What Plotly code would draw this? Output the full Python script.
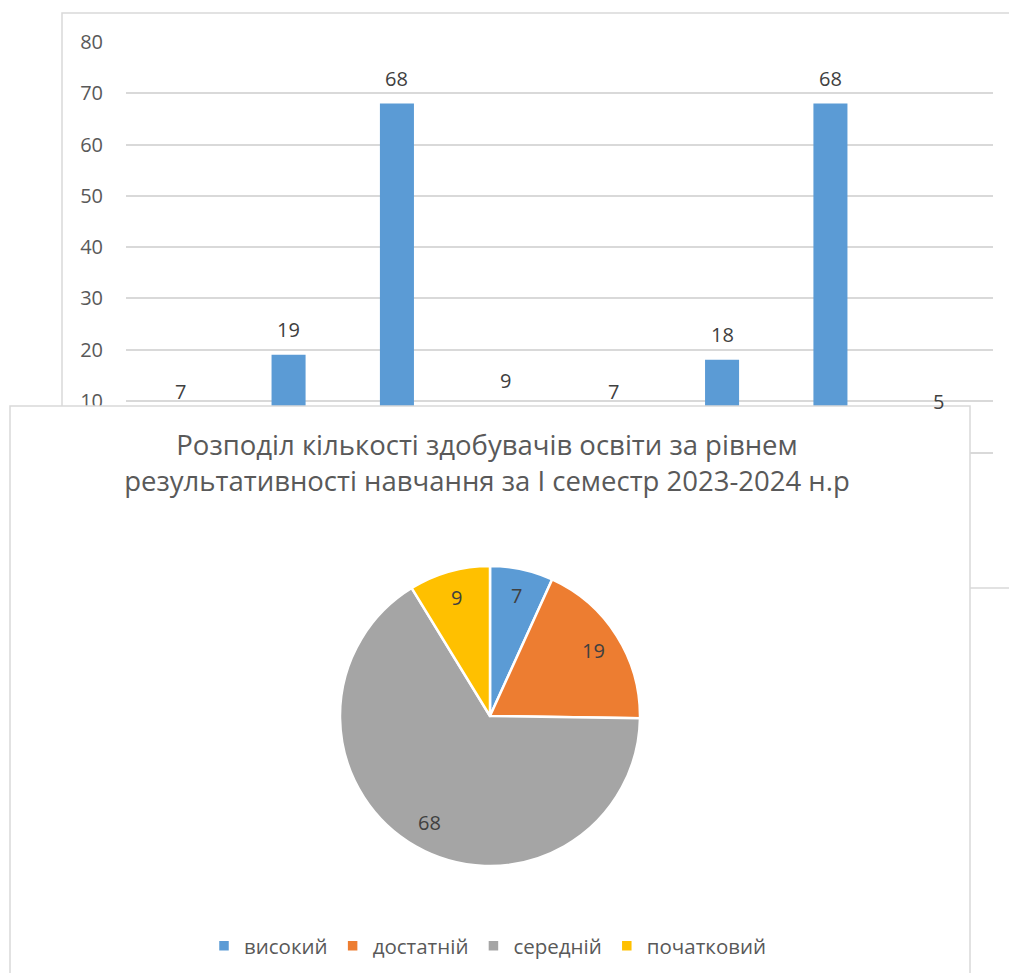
import math
import plotly.graph_objects as go

# ---- data ----
bar_categories = ["високий", "достатній", "середній", "початковий",
                  "високий ", "достатній ", "середній ", "початковий "]
bar_values = [7, 19, 68, 9, 7, 18, 68, 5]
y_ticks = [0, 10, 20, 30, 40, 50, 60, 70, 80]

pie_labels = ["високий", "достатній", "середній", "початковий"]
pie_values = [7, 19, 68, 9]
pie_colors = ["#5B9BD5", "#ED7D31", "#A5A5A5", "#FFC000"]

title_text = ("Розподіл кількості здобувачів освіти за рівнем<br>"
              "результативності навчання за І семестр 2023-2024 н.р")

# ---- layout helpers (pixel -> paper) ----
W, H = 1009, 973
def px(x):
    return x / W
def py(y):
    return 1 - y / H

FONT = "Open Sans"
GRID = "#D9D9D9"

# pie geometry (pixels)
PIE_CX, PIE_CY, PIE_R = 490, 716, 150
LABEL_R = 0.82

fig = go.Figure()

# background bar chart
xpos = list(range(len(bar_values)))
fig.add_trace(go.Bar(
    x=xpos, y=bar_values, marker=dict(color="#5B9BD5", line=dict(width=0)),
    width=0.314, showlegend=False, hoverinfo="skip", xaxis="x", yaxis="y",
))

# overlay pie
fig.add_trace(go.Pie(
    labels=pie_labels, values=pie_values, sort=False, direction="clockwise",
    rotation=0, marker=dict(colors=pie_colors, line=dict(color="white", width=2.5)),
    textinfo="none",
    domain=dict(x=[px(PIE_CX - PIE_R), px(PIE_CX + PIE_R)],
                y=[py(PIE_CY + PIE_R), py(PIE_CY - PIE_R)]),
    showlegend=True, hoverinfo="skip",
))

annotations = []
# bar value labels
for i, v in zip(xpos, bar_values):
    annotations.append(dict(
        x=i, y=v, xref="x", yref="y", text=str(v), showarrow=False,
        yanchor="middle", yshift=25,
        font=dict(family=FONT, size=20, color="#404040"),
    ))
# pie value labels placed along each slice bisector (from the data)
total = sum(pie_values)
cum = 0
for v in pie_values:
    mid = (cum + v / 2) / total * 2 * math.pi
    cum += v
    lx = PIE_CX + LABEL_R * PIE_R * math.sin(mid)
    ly = PIE_CY - LABEL_R * PIE_R * math.cos(mid)
    annotations.append(dict(
        x=px(lx), y=py(ly), xref="paper", yref="paper", text=str(v),
        showarrow=False, xanchor="center", yanchor="middle",
        font=dict(family=FONT, size=20, color="#404040"),
    ))

shapes = [
    # frame of the background chart
    dict(type="rect", xref="paper", yref="paper",
         x0=px(62), x1=px(1030), y0=py(588), y1=py(13),
         line=dict(color=GRID, width=1.5), fillcolor="rgba(0,0,0,0)", layer="below"),
    # white overlay panel (drawn in subplot x2y2, above the bar subplot, below the pie)
    dict(type="rect", xref="x2", yref="y2", x0=0, x1=1, y0=-0.1, y1=1,
         line=dict(color=GRID, width=1.5), fillcolor="white", layer="below"),
]

fig.update_layout(
    template="none",
    width=W, height=H, margin=dict(l=0, r=0, t=0, b=0, pad=0, autoexpand=False),
    paper_bgcolor="white", plot_bgcolor="rgba(0,0,0,0)",
    font=dict(family=FONT, color="#595959"),
    xaxis=dict(domain=[px(126), px(993)], range=[-0.5, len(bar_values) - 0.5],
               tickvals=xpos, ticktext=bar_categories, showticklabels=False,
               showgrid=False, zeroline=False, showline=True, linecolor=GRID,
               linewidth=1.5, ticks="", anchor="y", fixedrange=True, automargin=False),
    yaxis=dict(domain=[py(452), py(42)], range=[0, 80], tickvals=y_ticks,
               showgrid=True, gridcolor=GRID, gridwidth=1.5, zeroline=False,
               showline=False, ticks="", ticklabelstandoff=22,
               tickfont=dict(family=FONT, size=20, color="#595959"),
               anchor="x", fixedrange=True, automargin=False),
    xaxis2=dict(domain=[px(5), px(975)], range=[-5 / 960, 1 + 5 / 960],
                visible=False, anchor="y2", fixedrange=True, automargin=False),
    yaxis2=dict(domain=[0, py(401)], range=[0, 1 + 5 / 567],
                visible=False, anchor="x2", fixedrange=True, automargin=False),
    shapes=shapes,
    annotations=annotations,
    title=dict(text=title_text, x=px(487), xanchor="center", y=py(455),
               yanchor="middle", xref="paper", yref="paper",
               font=dict(family=FONT, size=27.5, color="#595959")),
    legend=dict(orientation="h", x=px(488), xanchor="center", y=py(946),
                yanchor="middle", font=dict(family=FONT, size=20.5, color="#595959"),
                bgcolor="rgba(0,0,0,0)"),
    bargap=0.686,
)

fig.write_html("out.html", config={"displayModeBar": False},
               post_script="document.body.style.margin='0px';")
